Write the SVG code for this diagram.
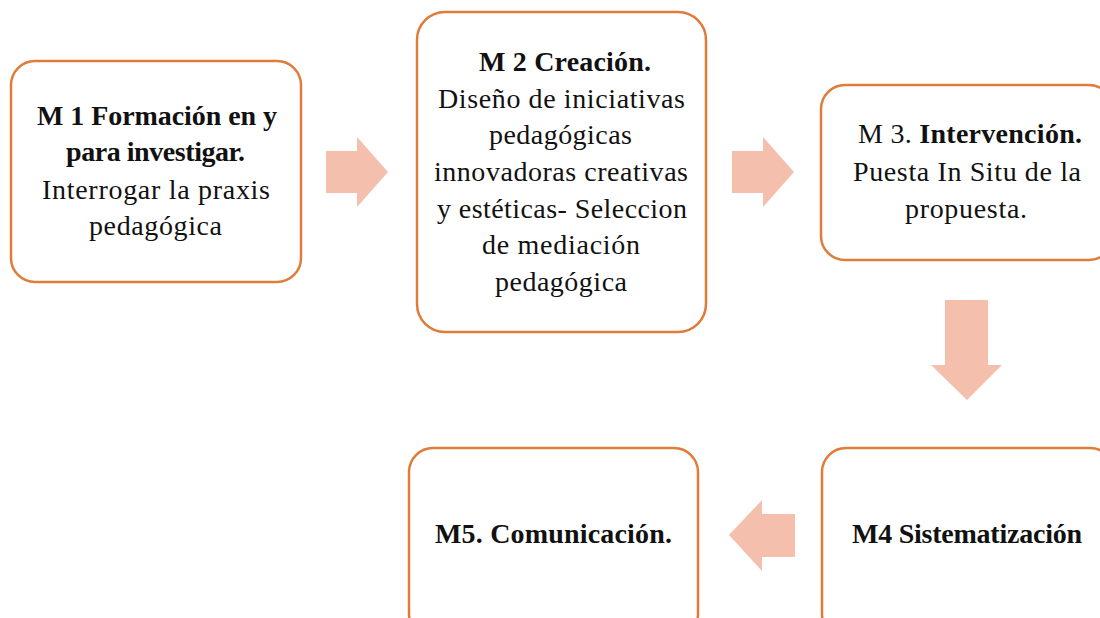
<svg xmlns="http://www.w3.org/2000/svg" width="1100" height="618" viewBox="0 0 1100 618">
<style>
.box{fill:#fff;stroke:#E07B39;stroke-width:2.5}
.arr{fill:#F4BFAD;stroke:none}
text{font-family:"Liberation Serif","DejaVu Serif",serif;font-size:28px;fill:#111}
.b{font-weight:bold}
</style>
<rect width="1100" height="618" fill="#fff"/>
<g id="connectors">
<polygon class="arr" points="326,151 357,151 357,137 388,172 357,207 357,193 326,193"/>
<polygon class="arr" points="732,151 763,151 763,137 794,172 763,207 763,193 732,193"/>
<polygon class="arr" points="945,300 988,300 988,365 1002,365 967,400 931,365 945,365"/>
<polygon class="arr" points="795,514 762,514 762,500 729,535 762,571 762,557 795,557"/>
</g>
<g id="m1">
<rect class="box" x="11" y="61" width="290" height="221" rx="24"/>
<text x="37" y="125" class="b" textLength="240" lengthAdjust="spacing">M 1 Formación en y</text>
<text x="66" y="161" class="b" textLength="179" lengthAdjust="spacing">para investigar.</text>
<text x="42" y="199" textLength="228" lengthAdjust="spacing">Interrogar la praxis</text>
<text x="89" y="235" textLength="133" lengthAdjust="spacing">pedagógica</text>
</g>
<g id="m2">
<rect class="box" x="417" y="12" width="289" height="320" rx="28"/>
<text x="479" y="71" class="b" textLength="172" lengthAdjust="spacing">M 2 Creación.</text>
<text x="438" y="108" textLength="247" lengthAdjust="spacing">Diseño de iniciativas</text>
<text x="489" y="144" textLength="143" lengthAdjust="spacing">pedagógicas</text>
<text x="434" y="181" textLength="254" lengthAdjust="spacing">innovadoras creativas</text>
<text x="437" y="218" textLength="250" lengthAdjust="spacing">y estéticas- Seleccion</text>
<text x="482" y="254" textLength="158" lengthAdjust="spacing">de mediación</text>
<text x="495" y="291" textLength="132" lengthAdjust="spacing">pedagógica</text>
</g>
<g id="m3">
<rect class="box" x="821" y="85" width="292" height="175" rx="24"/>
<text x="858" y="143" textLength="224" lengthAdjust="spacing">M 3. <tspan class="b">Intervención.</tspan></text>
<text x="853" y="181" textLength="228" lengthAdjust="spacing">Puesta In Situ de la</text>
<text x="905" y="218" textLength="122" lengthAdjust="spacing">propuesta.</text>
</g>
<g id="m4">
<rect class="box" x="822" y="448" width="292" height="190" rx="24"/>
<text x="852" y="543" class="b" textLength="230" lengthAdjust="spacing">M4 Sistematización</text>
</g>
<g id="m5">
<rect class="box" x="409" y="448" width="289" height="190" rx="24"/>
<text x="435" y="543" class="b" textLength="237" lengthAdjust="spacing">M5. Comunicación.</text>
</g>
</svg>
